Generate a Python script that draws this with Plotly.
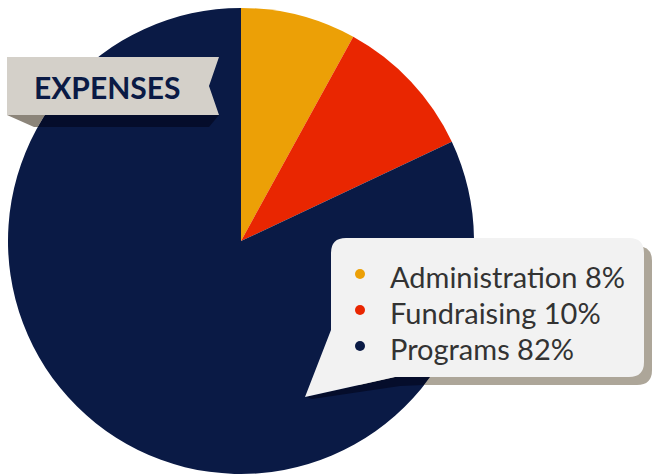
import plotly.graph_objects as go

# ---- data ----
categories = ["Administration", "Fundraising", "Programs"]
shares = [8, 10, 82]
colors = ["#ECA006", "#E92601", "#0A1A45"]
title_text = "EXPENSES"

W, H = 654, 475


def px(x):
    return x / W


def py(y):
    return 1 - y / H


def path(points, closed=True):
    s = "M " + " L ".join(f"{px(x):.5f},{py(y):.5f}" for x, y in points)
    return s + (" Z" if closed else "")


fig = go.Figure()
fig.add_trace(go.Pie(
    labels=categories,
    values=shares,
    marker=dict(colors=colors, line=dict(width=0)),
    sort=False,
    direction="clockwise",
    rotation=0,
    textinfo="none",
    hoverinfo="skip",
    showlegend=False,
    domain=dict(x=[px(8), px(474)], y=[py(474), py(8)]),
))

shapes = []
# banner shadow: part outside pie (over white) and inside pie (over navy)
shapes.append(dict(type="path", path=path([(7, 115), (45, 115), (38, 127), (34, 127)]),
                   fillcolor="#8C857A", line=dict(width=0), layer="above"))
shapes.append(dict(type="path", path=path([(45, 115), (219, 115), (209, 127), (38, 127)]),
                   fillcolor="#050D2B", line=dict(width=0), layer="above"))
# banner ribbon
shapes.append(dict(type="path", path=path([(7, 57), (219, 57), (209, 86), (219, 115), (7, 115)]),
                   fillcolor="#D4D0C9", line=dict(width=0), layer="above"))


def rrect(x0, y0, x1, y1, r):
    return (f"M {px(x0 + r)},{py(y0)} L {px(x1 - r)},{py(y0)} Q {px(x1)},{py(y0)} {px(x1)},{py(y0 + r)} "
            f"L {px(x1)},{py(y1 - r)} Q {px(x1)},{py(y1)} {px(x1 - r)},{py(y1)} "
            f"L {px(x0 + r)},{py(y1)} Q {px(x0)},{py(y1)} {px(x0)},{py(y1 - r)} "
            f"L {px(x0)},{py(y0 + r)} Q {px(x0)},{py(y0)} {px(x0 + r)},{py(y0)} Z")


# legend box shadow
shapes.append(dict(type="path", path=rrect(339, 246, 652, 385, 15),
                   fillcolor="#ADA699", line=dict(width=0), layer="above"))
shapes.append(dict(type="path",
                   path=path([(306, 397), (395, 377), (430, 377), (424, 385), (400, 386), (312, 399)]),
                   fillcolor="#050D2B", line=dict(width=0), layer="above"))
# legend box with tail
r = 15
x0, y0, x1, y1 = 331, 238, 644, 377
box = (f"M {px(x0 + r)},{py(y0)} L {px(x1 - r)},{py(y0)} Q {px(x1)},{py(y0)} {px(x1)},{py(y0 + r)} "
       f"L {px(x1)},{py(y1 - r)} Q {px(x1)},{py(y1)} {px(x1 - r)},{py(y1)} "
       f"L {px(395)},{py(y1)} L {px(305)},{py(397)} L {px(x0)},{py(330)} "
       f"L {px(x0)},{py(y0 + r)} Q {px(x0)},{py(y0)} {px(x0 + r)},{py(y0)} Z")
shapes.append(dict(type="path", path=box, fillcolor="#F2F2F2", line=dict(width=0), layer="above"))

annotations = [dict(x=px(107), y=py(87), xref="paper", yref="paper", text=f"<b>{title_text}</b>",
                    showarrow=False, xanchor="center", yanchor="middle",
                    font=dict(family="Lato", size=30, color="#0A1A45"))]

row_y = [274, 310, 346]
for i, (cat, val, col) in enumerate(zip(categories, shares, colors)):
    cy = row_y[i]
    shapes.append(dict(type="circle", xref="paper", yref="paper",
                       x0=px(355), x1=px(365), y0=py(cy - 5), y1=py(cy + 5),
                       fillcolor=col, line=dict(width=0), layer="above"))
    annotations.append(dict(x=px(388), y=py(cy + 2), xref="paper", yref="paper",
                            text=f"{cat} {val}%", showarrow=False,
                            xanchor="left", yanchor="middle",
                            font=dict(family="Lato", size=29, color="#333333")))

for s in shapes:
    s.setdefault("xref", "paper")
    s.setdefault("yref", "paper")

fig.update_layout(
    width=W, height=H,
    margin=dict(l=0, r=0, t=0, b=0),
    paper_bgcolor="white", plot_bgcolor="white",
    shapes=shapes, annotations=annotations,
)

fig.write_html("out.html", config={"displayModeBar": False},
               post_script="document.body.style.margin='0';document.body.style.overflow='hidden';")
